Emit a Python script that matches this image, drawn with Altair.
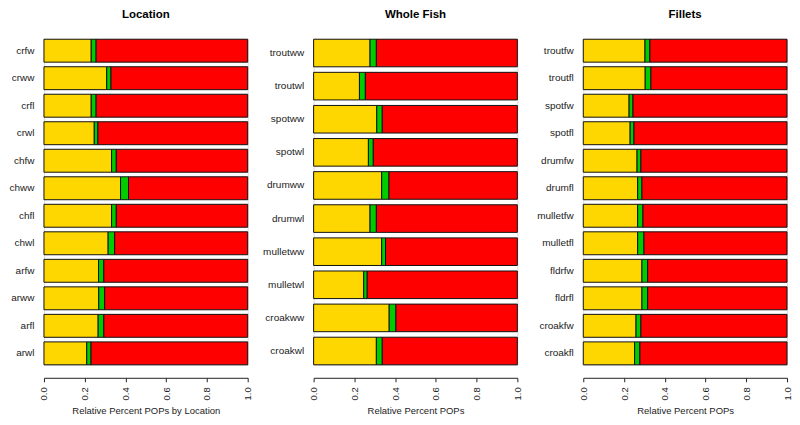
import altair as alt
import pandas as pd

FONT = "Liberation Sans, Arial, sans-serif"

# ---- Location panel ----
loc_cats = ["crfw", "crww", "crfl", "crwl", "chfw", "chww", "chfl", "chwl",
            "arfw", "arww", "arfl", "arwl"]
loc_yellow = [0.232, 0.308, 0.232, 0.247, 0.332, 0.376, 0.332, 0.315, 0.268, 0.269, 0.266, 0.210]
loc_green = [0.024, 0.021, 0.024, 0.018, 0.023, 0.039, 0.023, 0.032, 0.026, 0.029, 0.028, 0.021]
loc_red = [0.744, 0.671, 0.744, 0.735, 0.645, 0.585, 0.645, 0.653, 0.706, 0.702, 0.706, 0.769]

# ---- Whole Fish panel ----
wf_cats = ["troutww", "troutwl", "spotww", "spotwl", "drumww", "drumwl",
           "mulletww", "mulletwl", "croakww", "croakwl"]
wf_yellow = [0.277, 0.225, 0.310, 0.269, 0.334, 0.277, 0.334, 0.246, 0.371, 0.308]
wf_green = [0.031, 0.029, 0.027, 0.024, 0.036, 0.031, 0.019, 0.017, 0.033, 0.029]
wf_red = [0.692, 0.746, 0.663, 0.707, 0.630, 0.692, 0.647, 0.737, 0.596, 0.663]

# ---- Fillets panel ----
fil_cats = ["troutfw", "troutfl", "spotfw", "spotfl", "drumfw", "drumfl",
            "mulletfw", "mulletfl", "fldrfw", "fldrfl", "croakfw", "croakfl"]
fil_yellow = [0.303, 0.304, 0.225, 0.230, 0.264, 0.267, 0.267, 0.267, 0.288, 0.288, 0.259, 0.252]
fil_green = [0.024, 0.028, 0.019, 0.019, 0.019, 0.021, 0.026, 0.031, 0.028, 0.028, 0.024, 0.026]
fil_red = [0.673, 0.668, 0.756, 0.751, 0.717, 0.712, 0.707, 0.702, 0.684, 0.684, 0.717, 0.722]

seg_names = ["yellow", "green", "red"]
seg_colors = ["#FFD700", "#00CD00", "#FF0000"]
x_ticks = [0.0, 0.2, 0.4, 0.6, 0.8, 1.0]


def make_df(cats, ys, gs, rs):
    rows = []
    for i, c in enumerate(cats):
        for k, (name, v) in enumerate(zip(seg_names, [ys[i], gs[i], rs[i]])):
            rows.append({"cat": c, "seg": name, "order": k, "value": v})
    return pd.DataFrame(rows)


def panel(cats, ys, gs, rs, title, xtitle):
    df = make_df(cats, ys, gs, rs)
    return alt.Chart(
        df,
        title=alt.TitleParams(title, fontSize=11.5, fontWeight="bold", anchor="middle",
                              offset=18, font=FONT, color="black"),
    ).mark_bar(stroke="#111111", strokeWidth=1).encode(
        y=alt.Y("cat:N", sort=cats,
                scale=alt.Scale(paddingInner=0.1667, paddingOuter=0),
                axis=alt.Axis(title=None, domain=False, ticks=False, labelPadding=10,
                              labelFontSize=10, labelFont=FONT, labelColor="#222222")),
        x=alt.X("value:Q", stack="zero",
                scale=alt.Scale(domain=[0, 1], nice=False, zero=True),
                axis=alt.Axis(title=xtitle, values=x_ticks, format=".1f", labelAngle=270,
                              grid=False, tickSize=4, offset=13, labelPadding=5,
                              labelFontSize=9.5, labelFont=FONT, labelColor="#222222",
                              domainColor="#222222", tickColor="#222222",
                              titleFont=FONT, titleFontSize=9.5, titleFontWeight="normal",
                              titleColor="#222222", titlePadding=6)),
        color=alt.Color("seg:N", scale=alt.Scale(domain=seg_names, range=seg_colors), legend=None),
        order=alt.Order("order:Q"),
    ).properties(width=204, height=326)


p1 = panel(loc_cats, loc_yellow, loc_green, loc_red, "Location", "Relative Percent POPs by Location")
p2 = panel(wf_cats, wf_yellow, wf_green, wf_red, "Whole Fish", "Relative Percent POPs")
p3 = panel(fil_cats, fil_yellow, fil_green, fil_red, "Fillets", "Relative Percent POPs")

chart = alt.hconcat(p1, p2, p3, spacing=66, bounds="flush").properties(
    padding=0
).configure_view(stroke=None).configure(background="white")

chart.save("out.html", embed_options={"renderer": "svg", "actions": False})
